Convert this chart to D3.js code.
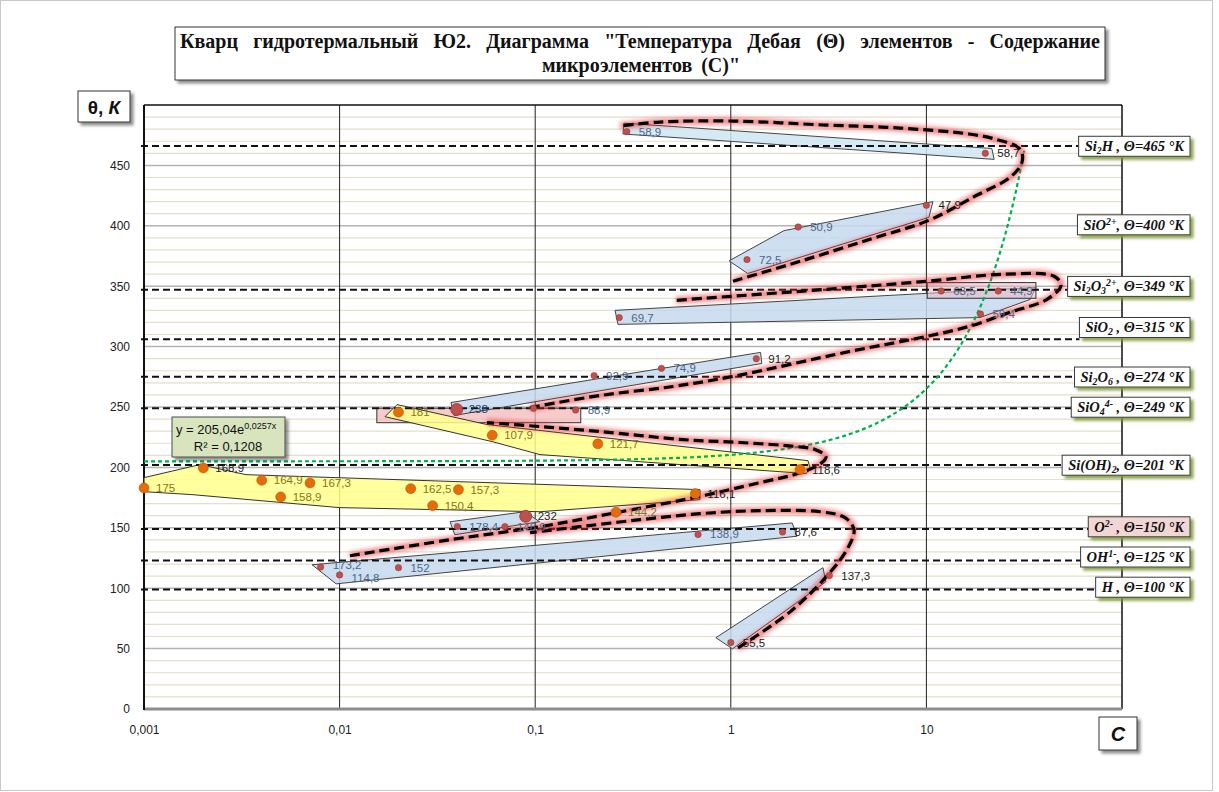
<!DOCTYPE html>
<html>
<head>
<meta charset="utf-8">
<script src="https://cdnjs.cloudflare.com/ajax/libs/d3/7.8.5/d3.min.js"></script>
<style>
  body { margin: 0; background: #fff; }
  svg { display: block; }
</style>
</head>
<body>
<svg id="chart" width="1219" height="792"></svg>
<script>
// ---- data (C, theta) ----
const xTicks = [0.001, 0.01, 0.1, 1, 10];
const xTickLabels = ["0,001", "0,01", "0,1", "1", "10"];
const yTicks = [0, 50, 100, 150, 200, 250, 300, 350, 400, 450];

// small red markers of the "blue" groups [C, theta, label]
const redPoints = [
  [0.294, 478, "58,9"], [20.0, 460, "58,7"],
  [10.0, 417, "47,9"], [2.21, 399, "50,9"], [1.21, 372, "72,5"],
  [11.9, 346, "63,5"], [23.3, 346, "44,9"], [0.269, 324, "69,7"], [18.9, 327, "59,4"],
  [1.35, 290, "91,2"], [0.442, 282, "74,9"], [0.20, 276, "92,9"],
  [0.161, 247.5, "88,9"], [0.098, 249, ""],
  [0.0080, 117.5, "173,2"], [0.0100, 111, "114,8"], [0.0200, 117, "152"],
  [0.68, 144.5, "138,9"], [1.84, 146.5, "87,6"],
  [0.040, 151, "178,4"], [0.070, 151, "148,9"],
  [3.19, 110.5, "137,3"], [1.0, 55, "55,5"]
];
// larger red markers
const bigRedPoints = [[0.0397, 248, "238"], [0.0894, 159.5, "232"]];
// orange markers of the "yellow" groups
const orangePoints = [
  [0.001, 183, "175"], [0.00201, 199.6, "168,9"], [0.004, 189.3, "164,9"],
  [0.00706, 187.1, "167,3"], [0.005, 175.5, "158,9"], [0.0231, 182.4, "162,5"],
  [0.0405, 181.6, "157,3"], [0.0299, 168.3, "150,4"], [0.659, 178.3, "116,1"],
  [0.259, 162.8, "144,2"], [0.02, 245.7, "181"], [0.0603, 226.6, "107,9"],
  [0.209, 219.5, "121,7"], [2.26, 198.2, "118,6"]
];
const darkLabels = ["47,9", "91,2", "137,3", "232", "55,5", "118,6", "116,1", "168,9", "87,6", "58,7"];

// outlined areas, vertices as [C, theta]
const bluePolys = [
  [[0.284, 485], [21.6, 464], [22.2, 455], [0.281, 476]],
  [[10.8, 420], [10.3, 407], [1.22, 360.5], [0.98, 371], [1.87, 396]],
  [[0.256, 330], [36.3, 349], [33.9, 339], [18.8, 324], [0.265, 318.4]],
  [[0.0371, 253.7], [1.42, 295.2], [1.44, 286], [0.0385, 243]],
  [[0.0367, 155], [0.0884, 163.3], [0.1055, 155], [0.0388, 144.3]],
  [[0.00723, 119.4], [2.06, 154], [2.18, 143], [0.0096, 103.6]],
  [[0.839, 59], [2.96, 117], [3.06, 105.3], [1.02, 49.8]]
];
const yellowPolys = [
  [[0.001, 191.5], [0.00193, 202.3], [0.00332, 194], [0.696, 181.6], [0.696, 173.3],
   [0.106, 163.3], [0.01, 166.7], [0.00178, 177.4], [0.001, 179.9]],
  [[0.01706, 242], [0.01966, 252], [0.0567, 235.5], [2.48, 205.6], [2.54, 199.8],
   [2.43, 194.9], [0.1058, 210.6], [0.0601, 221.4]]
];
const pinkRects = [[[0.0155, 237], [0.171, 249]], [[10.1, 340], [36.3, 353]]];

// hand-drawn spiral pieces
const spiralA = [[1.088, 50.6], [2.008, 80.4], [3.14, 111.1], [3.974, 133.5], [4.265, 148.4],
  [3.835, 158.4], [2.858, 163.3], [1.41, 164.2], [0.696, 161.7], [0.3435, 156.7], [0.1694, 150.9], [0.0941, 146]];
const spiralB = [[0.0113, 126.9], [0.03668, 140.1], [0.1058, 150.9], [0.2589, 162.5], [0.6484, 175],
  [1.41, 187.4], [2.285, 195.7], [2.926, 204], [3.067, 209], [2.695, 214.8], [2.18, 217.2],
  [1.114, 220.6], [0.5695, 223], [0.2145, 229.7], [0.1058, 233.8], [0.0567, 237.1]];
const spiralC = [[0.0941, 249.6], [0.2145, 259.5], [0.5064, 267], [1.026, 275.3], [4.069, 296],
  [10.07, 308.5], [16.51, 316.7], [26.76, 328.4], [41.37, 339.1], [48.77, 350.7], [44.94, 358.2],
  [24.93, 359.9], [10.07, 354.1], [3.067, 347.4], [0.5245, 338.3]];
const spiralD = [[1.026, 354.1], [2.259, 370.6], [5.149, 388.9], [10.31, 404.6], [17.72, 424.5],
  [26.76, 440.1], [30.82, 452.7], [30.1, 463.5], [22.42, 471.8], [16.51, 476], [7.328, 480.9],
  [3.067, 483.4], [1.026, 486.7], [0.4345, 485.9], [0.2714, 482.6]];

// exponential trend shown on the chart: y = 205,04 e^(0,0257x)
const trendA = 205.04, trendB = 0.0257, trendMaxC = 32;

// reference levels
const refTheta = [465, 400, 349, 315, 274, 249, 201, 150, 125, 100];
const refLineTheta = [466, null, 347, 306, 275, 249, 202, 149, 123, 99];
const refNames = [
  [["Si"], ["2", "sub"], ["H , "]],
  [["SiO"], ["2+", "sup"], [", "]],
  [["Si"], ["2", "sub"], ["O"], ["3", "sub"], ["2+", "sup"], [", "]],
  [["SiO"], ["2", "sub"], [" , "]],
  [["Si"], ["2", "sub"], ["O"], ["6", "sub"], [" , "]],
  [["SiO"], ["4", "sub"], ["4-", "sup"], [" , "]],
  [["Si(OH)"], ["2", "sub"], [", "]],
  [["O"], ["2-", "sup"], [" , "]],
  [["OH"], ["1-", "sup"], [", "]],
  [["H , "]]
];

// ---- drawing ----
const svg = d3.select("#chart");
const x = d3.scaleLog().domain([0.001, 100]).range([144, 1122]);
const y = d3.scaleLinear().domain([0, 500]).range([709, 105]);

const defs = svg.append("defs");
const glow = defs.append("filter").attr("id", "glow").attr("x", "-10%").attr("y", "-10%").attr("width", "120%").attr("height", "120%");
glow.append("feGaussianBlur").attr("stdDeviation", 2);
function shadow(id, color, op) {
  defs.append("filter").attr("id", id).attr("x", "-10%").attr("y", "-20%").attr("width", "130%").attr("height", "160%")
    .append("feDropShadow").attr("dx", 3).attr("dy", 3).attr("stdDeviation", 1.6)
    .attr("flood-color", color).attr("flood-opacity", op);
}
shadow("shGray", "#000", 0.45);
shadow("shGreen", "#7f9a3c", 0.9);

svg.append("rect").attr("x", 0.5).attr("y", 0.5).attr("width", 1212).attr("height", 790)
  .attr("fill", "#fff").attr("stroke", "#c8c8c8");

// grid
const grid = svg.append("g");
grid.selectAll("line.minor").data(d3.range(10, 500, 10).filter(v => v % 50 !== 0)).join("line")
  .attr("x1", 144).attr("x2", 1122).attr("y1", d => y(d)).attr("y2", d => y(d))
  .attr("stroke", "#e4dfca").attr("stroke-width", 1.2);
grid.selectAll("line.major").data(d3.range(50, 500, 50)).join("line")
  .attr("x1", 144).attr("x2", 1122).attr("y1", d => y(d)).attr("y2", d => y(d))
  .attr("stroke", "#b3b3b3").attr("stroke-width", 1.5);
grid.selectAll("line.v").data(xTicks.slice(1)).join("line")
  .attr("x1", d => x(d)).attr("x2", d => x(d)).attr("y1", y(0)).attr("y2", y(500))
  .attr("stroke", "#222").attr("stroke-width", 1);

// plot frame
svg.append("line").attr("x1", 144).attr("x2", 1122).attr("y1", y(500)).attr("y2", y(500)).attr("stroke", "#111").attr("stroke-width", 1.5);
svg.append("line").attr("x1", 1122).attr("x2", 1122).attr("y1", y(500)).attr("y2", y(0)).attr("stroke", "#111").attr("stroke-width", 1.5);
svg.append("line").attr("x1", 144).attr("x2", 1122).attr("y1", y(0)).attr("y2", y(0)).attr("stroke", "#8c8c8c").attr("stroke-width", 3);
svg.append("line").attr("x1", 144).attr("x2", 144).attr("y1", y(500)).attr("y2", y(0) + 1).attr("stroke", "#111").attr("stroke-width", 2);

// axes labels
const yAxis = svg.append("g").attr("transform", "translate(144,0)")
  .call(d3.axisLeft(y).tickValues(yTicks).tickSize(0).tickPadding(14));
const xAxis = svg.append("g").attr("transform", `translate(0,${y(0)})`)
  .call(d3.axisBottom(x).tickValues(xTicks).tickFormat((d, i) => xTickLabels[i]).tickSize(0).tickPadding(16));
[yAxis, xAxis].forEach(a => {
  a.select(".domain").remove();
  a.selectAll("text").attr("font-family", "Liberation Sans, Arial, sans-serif").attr("font-size", 12).attr("fill", "#222");
});

// areas
const toPts = p => p.map(d => [x(d[0]), y(d[1])].join(",")).join(" ");
svg.append("g").selectAll("rect").data(pinkRects.slice(0, 1)).join("rect")
  .attr("x", d => x(d[0][0])).attr("y", d => y(d[1][1]))
  .attr("width", d => x(d[1][0]) - x(d[0][0])).attr("height", d => y(d[0][1]) - y(d[1][1]))
  .attr("fill", "#f4b9b9").attr("fill-opacity", 0.75).attr("stroke", "#333").attr("stroke-width", 1);
svg.append("g").selectAll("polygon").data(yellowPolys).join("polygon")
  .attr("points", toPts).attr("fill", "#ffff8c").attr("fill-opacity", 0.85)
  .attr("stroke", "#333").attr("stroke-width", 1);
svg.append("g").selectAll("polygon").data(bluePolys).join("polygon")
  .attr("points", toPts).attr("fill", (d, i) => i === 0 ? "#cfe6f4" : "#c5d9ef").attr("fill-opacity", 0.85)
  .attr("stroke", "#444").attr("stroke-width", 1);
// upper pink rect sits over the blue area
svg.append("rect").datum(pinkRects[1])
  .attr("x", d => x(d[0][0])).attr("y", d => y(d[1][1]))
  .attr("width", d => x(d[1][0]) - x(d[0][0])).attr("height", d => y(d[0][1]) - y(d[1][1]))
  .attr("fill", "#e8b8c4").attr("fill-opacity", 0.55).attr("stroke", "#333").attr("stroke-width", 1);

// reference dashed levels
const refG = svg.append("g");

// trend line
const trendData = d3.range(-3, Math.log10(trendMaxC) + 0.001, 0.02).map(e => Math.pow(10, e)).map(c => [c, trendA * Math.exp(trendB * c)]);
const line = d3.line().x(d => x(d[0])).y(d => y(d[1]));
svg.append("path").attr("d", line(trendData)).attr("fill", "none")
  .attr("stroke", "#00b050").attr("stroke-width", 2.2).attr("stroke-dasharray", "4,3");

// spiral
const curve = d3.line().x(d => x(d[0])).y(d => y(d[1])).curve(d3.curveCatmullRom.alpha(0.5));
const spirals = [spiralA, spiralB, spiralC, spiralD];
svg.append("g").attr("filter", "url(#glow)").selectAll("path").data(spirals).join("path")
  .attr("d", curve).attr("fill", "none").attr("stroke", "#e8262b").attr("stroke-opacity", 0.55).attr("stroke-width", 7);
svg.append("g").selectAll("path").data(spirals).join("path")
  .attr("d", curve).attr("fill", "none").attr("stroke", "#000").attr("stroke-width", 3.2)
  .attr("stroke-dasharray", "10,5");

// markers
const mk = svg.append("g");
mk.selectAll("circle.o").data(orangePoints).join("circle")
  .attr("cx", d => x(d[0])).attr("cy", d => y(d[1])).attr("r", 5)
  .attr("fill", "#e46c0a").attr("stroke", "#b85a0a").attr("stroke-width", 0.6);
mk.selectAll("circle.r").data(redPoints).join("circle")
  .attr("cx", d => x(d[0])).attr("cy", d => y(d[1])).attr("r", 3.2)
  .attr("fill", "#c0504d").attr("stroke", "#8c3330").attr("stroke-width", 0.5);
mk.selectAll("circle.b").data(bigRedPoints).join("circle")
  .attr("cx", d => x(d[0])).attr("cy", d => y(d[1])).attr("r", 6)
  .attr("fill", "#c0504d").attr("stroke", "#943634").attr("stroke-width", 0.8);

// the two crowded labels near 0,01 get pushed apart a little
const labelShift = { "173,2": -2, "114,8": 3 };
const labG = svg.append("g").attr("font-family", "Liberation Sans, Arial, sans-serif").attr("font-size", 11.5);
function labels(data, color) {
  labG.selectAll(null).data(data.filter(d => d[2])).join("text")
    .attr("x", d => x(d[0]) + 12).attr("y", d => y(d[1]) + 4 + (labelShift[d[2]] || 0))
    .attr("fill", d => darkLabels.includes(d[2]) ? "#1c1c1c" : color).text(d => d[2]);
}
labels(redPoints, "#4d6688");
labels(bigRedPoints, "#2b3f66");
labels(orangePoints, "#857520");

// reference boxes + lines
function rich(t, parts) {
  let off = 0;
  parts.forEach(([s, k]) => {
    const target = k === "sub" ? 3 : k === "sup" ? -5 : 0;
    t.append("tspan").attr("dy", target - off).attr("font-size", k ? "0.68em" : null).text(s);
    off = target;
  });
}
const boxG = svg.append("g");
refTheta.forEach((v, i) => {
  const cy = y(v) - 1;
  const g = boxG.append("g");
  const rect = g.append("rect");
  const t = g.append("text").attr("font-family", "Liberation Serif, Times New Roman, serif")
    .attr("font-weight", "bold").attr("font-style", "italic").attr("font-size", 14.5).attr("fill", "#111")
    .attr("y", cy + 5);
  rich(t, refNames[i].concat([["\u0398=" + v + " \u00B0K"]]));
  const w = t.node().getComputedTextLength();
  const right = 1190, left = right - w - 12;
  t.attr("x", left + 6);
  rect.attr("x", left).attr("y", cy - 10).attr("width", w + 12).attr("height", 20)
    .attr("fill", i === 7 ? "#f2d6d5" : "#fff").attr("stroke", "#3a3a3a").attr("stroke-width", 1)
    .attr("filter", "url(#shGreen)");
  if (refLineTheta[i] !== null) {
    refG.append("line").attr("x1", 141).attr("x2", left).attr("y1", y(refLineTheta[i])).attr("y2", y(refLineTheta[i]))
      .attr("stroke", "#111").attr("stroke-width", 2).attr("stroke-dasharray", "7,4");
  }
});

// trend equation box
const eq = svg.append("g");
eq.append("rect").attr("x", 172).attr("y", 417).attr("width", 113).attr("height", 40)
  .attr("fill", "#d7e4bd").attr("stroke", "#4a4a4a").attr("filter", "url(#shGray)");
const eqT = eq.append("text").attr("font-family", "Liberation Sans, Arial, sans-serif").attr("font-size", 13).attr("fill", "#111")
  .attr("x", 176).attr("y", 434);
eqT.append("tspan").text("y = 205,04e");
eqT.append("tspan").attr("dy", -5).attr("font-size", 9).text("0,0257x");
eq.append("text").attr("font-family", "Liberation Sans, Arial, sans-serif").attr("font-size", 13).attr("fill", "#111")
  .attr("x", 228).attr("y", 451).attr("text-anchor", "middle").text("R\u00B2 = 0,1208");

// title
const title = svg.append("g");
title.append("rect").attr("x", 175).attr("y", 27).attr("width", 930).attr("height", 53)
  .attr("fill", "#fff").attr("stroke", "#333").attr("filter", "url(#shGray)");
const tf = "Liberation Serif, Times New Roman, serif";
const t1 = title.append("text").attr("font-family", tf).attr("font-weight", "bold").attr("font-size", 20)
  .attr("x", 180).attr("y", 48).attr("fill", "#111")
  .text("Кварц гидротермальный Ю2. Диаграмма \"Температура Дебая (\u0398) элементов - Содержание");
const w1 = t1.node().getComputedTextLength();
if (w1 > 920) {
  t1.attr("textLength", 920).attr("lengthAdjust", "spacingAndGlyphs");
} else {
  t1.attr("word-spacing", (920 - w1) / (t1.text().split(" ").length - 1));
}
title.append("text").attr("font-family", tf).attr("font-weight", "bold").attr("font-size", 20)
  .attr("x", 641).attr("y", 72).attr("text-anchor", "middle").attr("fill", "#111")
  .attr("word-spacing", 4).text("микроэлементов (С)\"");

// axis titles
svg.append("rect").attr("x", 78).attr("y", 91).attr("width", 52).attr("height", 31)
  .attr("fill", "#fff").attr("stroke", "#333").attr("filter", "url(#shGray)");
const yt = svg.append("text").attr("x", 104).attr("y", 114).attr("text-anchor", "middle")
  .attr("font-family", "Liberation Sans, Arial, sans-serif").attr("font-weight", "bold").attr("font-size", 19).attr("fill", "#111");
yt.append("tspan").text("\u03B8, ");
yt.append("tspan").attr("font-style", "italic").text("К");
svg.append("rect").attr("x", 1099).attr("y", 717).attr("width", 38).attr("height", 33)
  .attr("fill", "#fff").attr("stroke", "#333").attr("filter", "url(#shGray)");
svg.append("text").attr("x", 1118).attr("y", 741).attr("text-anchor", "middle")
  .attr("font-family", "Liberation Sans, Arial, sans-serif").attr("font-weight", "bold").attr("font-style", "italic")
  .attr("font-size", 20).attr("fill", "#111").text("С");
</script>
</body>
</html>
